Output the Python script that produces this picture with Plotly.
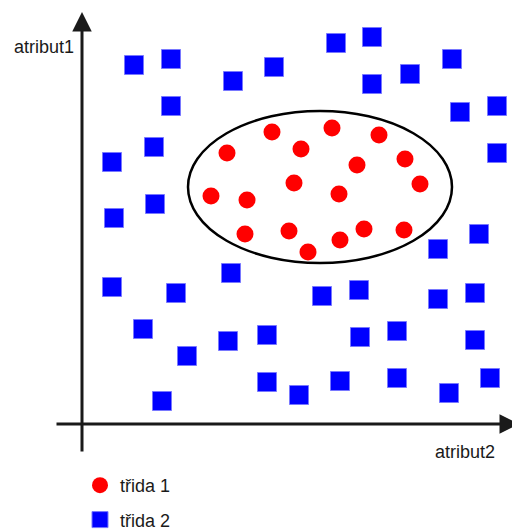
import plotly.graph_objects as go

# --- data (attribute values; origin at the axes' crossing) ---
class1_x = [190, 250, 297, 219, 275, 323, 212, 257, 338, 145, 129, 165, 207, 226, 258, 282, 322, 163]
class1_y = [292, 296, 289, 275, 259, 265, 241, 230, 240, 271, 228, 224, 193, 172, 184, 195, 194, 190]

class2_x = [52, 89, 151, 192, 254, 290, 290, 328, 370, 378, 415, 415, 89, 72, 30, 73, 32,
            30, 94, 149, 61, 105, 146, 185, 80, 185, 217, 258, 315, 367, 408, 240, 277,
            278, 315, 356, 393, 393, 356, 397]
class2_y = [359, 365, 343, 357, 381, 387, 340, 350, 365, 312, 318, 271, 318, 277, 262, 220, 206,
            137, 131, 151, 95, 68, 83, 89, 23, 42, 29, 43, 46, 31, 46, 128, 134,
            87, 93, 125, 131, 84, 175, 190]

series_names = ["třida 1", "třida 2"]
axis_labels = ["atribut1", "atribut2"]

# decision boundary ellipse (center, semi-axes)
ell_cx, ell_cy, ell_rx, ell_ry = 238, 237, 132, 76

X_RANGE = [-74, 438]
Y_RANGE = [-107, 416]

FONT = "Liberation Sans, Arial, sans-serif"
INK = "#1a1a1a"

fig = go.Figure()
fig.add_trace(go.Scatter(
    x=class1_x, y=class1_y, mode="markers", name=series_names[0],
    legendgroup="a",
    marker=dict(symbol="circle", size=17, color="rgb(255,0,0)", line=dict(width=0)),
))
fig.add_trace(go.Scatter(
    x=class2_x, y=class2_y, mode="markers", name=series_names[1],
    legendgroup="b",
    marker=dict(symbol="square", size=19, color="rgb(0,0,255)",
                line=dict(width=1, color="rgb(120,120,255)")),
))

fig.add_shape(type="circle", xref="x", yref="y",
              x0=ell_cx - ell_rx, x1=ell_cx + ell_rx,
              y0=ell_cy - ell_ry, y1=ell_cy + ell_ry,
              line=dict(color="black", width=2.5), layer="below")

# axes with arrows
fig.add_annotation(x=0, y=412, ax=0, ay=-29, xref="x", yref="y", axref="x", ayref="y",
                   showarrow=True, arrowhead=2, arrowsize=1.3, arrowwidth=3,
                   arrowcolor=INK, text="", standoff=0)
fig.add_annotation(x=437, y=0, ax=-27, ay=0, xref="x", yref="y", axref="x", ayref="y",
                   showarrow=True, arrowhead=2, arrowsize=1.3, arrowwidth=3,
                   arrowcolor=INK, text="", standoff=0)

fig.add_annotation(x=-70, y=377, xref="x", yref="y", text=axis_labels[0], showarrow=False,
                   xanchor="left", yanchor="middle", font=dict(family=FONT, size=18, color=INK))
fig.add_annotation(x=415, y=-28, xref="x", yref="y", text=axis_labels[1], showarrow=False,
                   xanchor="right", yanchor="middle", font=dict(family=FONT, size=18, color=INK))

W, H = 512, 523
fig.update_layout(
    width=W, height=H,
    margin=dict(l=0, r=0, t=0, b=0, autoexpand=False),
    paper_bgcolor="white", plot_bgcolor="white",
    xaxis=dict(range=X_RANGE, visible=False, fixedrange=True),
    yaxis=dict(range=Y_RANGE, visible=False, fixedrange=True),
    showlegend=True,
    legend=dict(x=72/W, y=1 - 459/H, xanchor="left", yanchor="top",
                traceorder="grouped", tracegroupgap=8,
                font=dict(family=FONT, size=18, color=INK),
                bgcolor="rgba(0,0,0,0)", itemsizing="trace"),
)

fig.write_html("out.html")
